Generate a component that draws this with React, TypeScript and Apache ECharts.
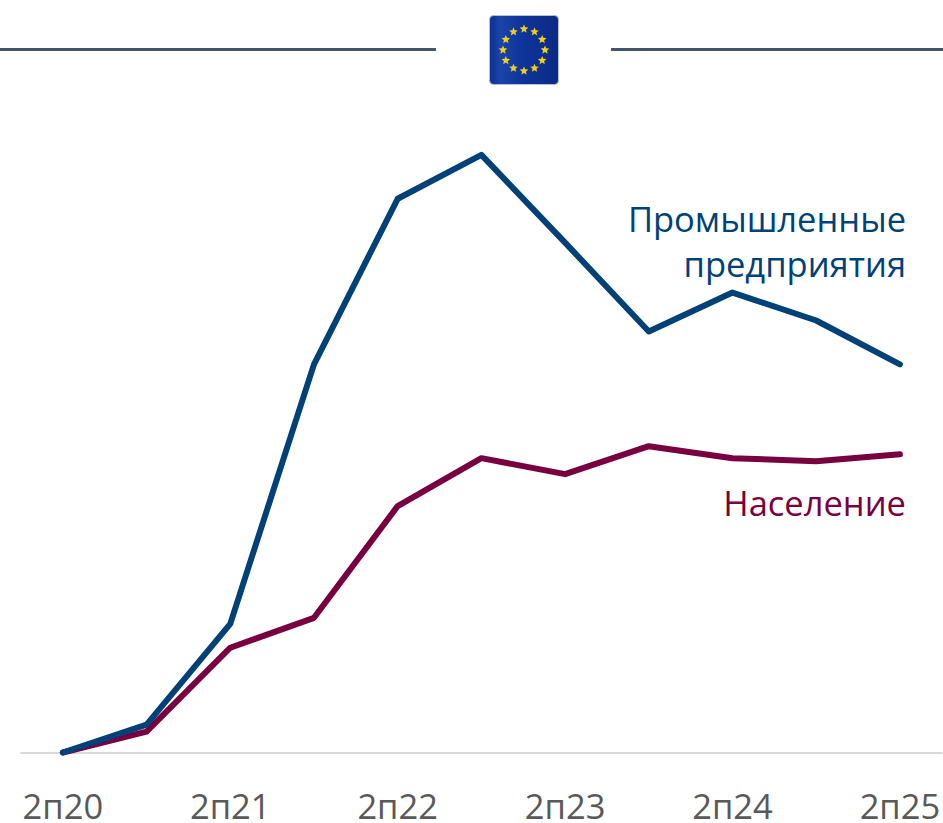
import React, { useEffect, useRef } from "react";
import * as echarts from "echarts";

const categories = ["2п20", "1п21", "2п21", "1п22", "2п22", "1п23", "2п23", "1п24", "2п24", "1п25", "2п25"];
const enterprises = [0, 28, 129, 389, 555, 599, 511, 422, 461, 433, 389];
const households = [0, 21, 105, 135, 247, 295, 279, 307, 295, 292, 299];
const enterprisesName = "Промышленные\nпредприятия";
const householdsName = "Население";
const BLUE = "#004178";
const RED = "#780040";

const starPoints = (cx: number, cy: number, R: number) => {
  const pts: number[][] = [];
  for (let i = 0; i < 10; i++) {
    const r = i % 2 === 0 ? R : R * 0.45;
    const a = -Math.PI / 2 + (i * Math.PI) / 5;
    pts.push([cx + r * Math.cos(a), cy + r * Math.sin(a)]);
  }
  return pts;
};

export default function App() {
  const ref = useRef<HTMLDivElement>(null);
  useEffect(() => {
    const chart = echarts.init(ref.current!, undefined, { renderer: "svg" });
    const stars = Array.from({ length: 12 }, (_, i) => {
      const a = (i * Math.PI) / 6;
      return {
        type: "polygon",
        shape: { points: starPoints(524 + 21 * Math.sin(a), 50 - 21 * Math.cos(a), 4.5) },
        style: { fill: "#f2cf1a" },
        z: 12,
      };
    });
    chart.setOption({
      animation: false,
      backgroundColor: "#ffffff",
      grid: { left: 21, top: 101, width: 925, height: 653, containLabel: false },
      xAxis: {
        type: "category",
        data: categories,
        boundaryGap: true,
        axisTick: { show: false },
        axisLine: { lineStyle: { color: "#d9d9d9", width: 2 } },
        axisLabel: {
          interval: 1,
          margin: 38,
          color: "#595959",
          fontFamily: "Open Sans",
          fontSize: 34.5,
          lineHeight: 30,
          hideOverlap: false,
        },
      },
      yAxis: { type: "value", min: 0, max: 653, show: false, splitLine: { show: false } },
      series: [
        {
          type: "line",
          name: "Население",
          data: households,
          showSymbol: false,
          clip: false,
          lineStyle: { color: RED, width: 6, cap: "round", join: "round" },
        },
        {
          type: "line",
          name: "Промышленные предприятия",
          data: enterprises,
          showSymbol: false,
          clip: false,
          lineStyle: { color: BLUE, width: 6, cap: "round", join: "round" },
        },
      ],
      graphic: [
        { type: "line", shape: { x1: 0, y1: 49.5, x2: 436, y2: 49.5 }, style: { stroke: "#44546a", lineWidth: 3 } },
        { type: "line", shape: { x1: 611, y1: 49.5, x2: 943, y2: 49.5 }, style: { stroke: "#44546a", lineWidth: 3 } },
        {
          type: "rect",
          shape: { x: 489.5, y: 15.5, width: 69, height: 69, r: 4 },
          style: {
            stroke: "#b4bfd6",
            lineWidth: 1,
            fill: {
              type: "linear", x: 0, y: 0, x2: 1, y2: 0,
              colorStops: [
                { offset: 0, color: "#0f2f94" },
                { offset: 0.15, color: "#1a44a8" },
                { offset: 0.5, color: "#0e3399" },
                { offset: 1, color: "#0b2a85" },
              ],
            },
          },
          z: 11,
        },
        ...stars,
        {
          type: "text", x: 906, y: 241,
          style: { text: enterprisesName, fill: BLUE, font: "34.5px 'Open Sans'", align: "right", verticalAlign: "middle", lineHeight: 45 },
        },
        {
          type: "text", x: 906, y: 502,
          style: { text: householdsName, fill: RED, font: "34.5px 'Open Sans'", align: "right", verticalAlign: "middle" },
        },
      ],
    });
    return () => chart.dispose();
  }, []);
  return <div ref={ref} style={{ position: "absolute", left: 0, top: 0, width: 943, height: 823 }} />;
}
